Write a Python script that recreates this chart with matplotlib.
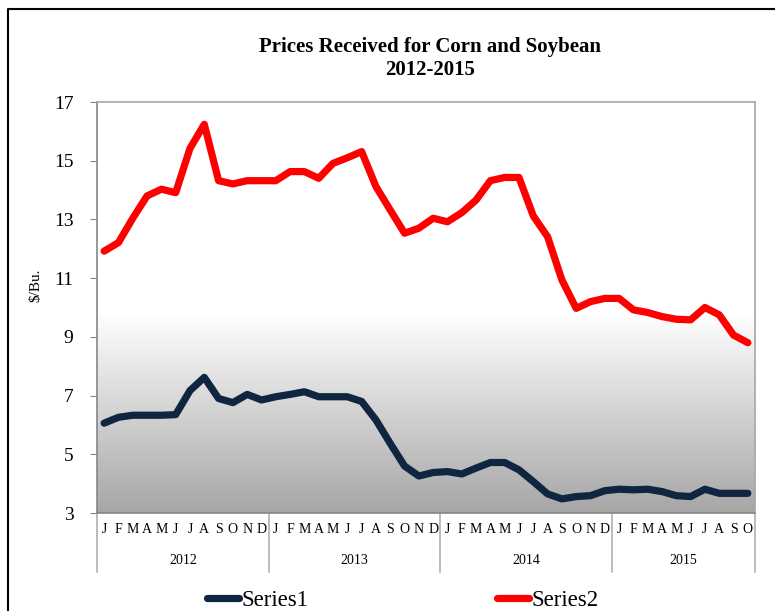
import matplotlib
matplotlib.use("Agg")
import matplotlib.pyplot as plt
import numpy as np
from matplotlib.lines import Line2D
import matplotlib.transforms as mtransforms
from matplotlib.colors import LinearSegmentedColormap

months = ["J", "F", "M", "A", "M", "J", "J", "A", "S", "O", "N", "D"]
years = ["2012", "2013", "2014", "2015"]
months_per_year = [12, 12, 12, 10]
month_labels = months * 3 + months[:10]

series1 = [6.06, 6.26, 6.33, 6.33, 6.33, 6.35, 7.17, 7.62, 6.90, 6.76, 7.04, 6.85,
           6.96, 7.04, 7.13, 6.96, 6.96, 6.96, 6.80, 6.17, 5.37, 4.60, 4.26, 4.38,
           4.41, 4.33, 4.53, 4.72, 4.72, 4.47, 4.07, 3.65, 3.48, 3.56, 3.59, 3.76,
           3.81, 3.79, 3.81, 3.73, 3.59, 3.56, 3.81, 3.67, 3.67, 3.67]
series2 = [11.92, 12.21, 13.04, 13.80, 14.03, 13.91, 15.42, 16.24, 14.32, 14.21, 14.32, 14.32,
           14.32, 14.63, 14.63, 14.40, 14.91, 15.10, 15.31, 14.12, 13.32, 12.53, 12.70, 13.04,
           12.92, 13.23, 13.66, 14.32, 14.43, 14.43, 13.12, 12.41, 10.94, 9.97, 10.20, 10.31,
           10.31, 9.92, 9.83, 9.69, 9.60, 9.58, 10.00, 9.75, 9.06, 8.80]
series_names = ["Series1", "Series2"]

W, H = 775, 611
fig = plt.figure(figsize=(W / 100, H / 100), dpi=100)
serif = ["Liberation Serif", "DejaVu Serif"]
plt.rcParams['font.family'] = serif

ax = fig.add_axes([97 / W, 1 - 513 / H, (755 - 97) / W, (513 - 102) / H])
n = len(series1)
x = np.arange(n)
ax.set_xlim(-0.5, n - 0.5)
ax.set_ylim(3, 17)

# gradient background
grad = np.linspace(0, 1, 256).reshape(-1, 1)
cmap = LinearSegmentedColormap.from_list("g", ["#a6a6a6", "#ffffff"])
ax.imshow(grad, cmap=cmap, aspect="auto", origin="lower",
          extent=(-0.5, n - 0.5, 3, 9.8), zorder=0)

ax.plot(x, series1, color="#10253f", lw=5.2, solid_capstyle="round",
        solid_joinstyle="round", label=series_names[0], zorder=3)
ax.plot(x, series2, color="#ff0000", lw=5.2, solid_capstyle="round",
        solid_joinstyle="round", label=series_names[1], zorder=3)

ax.set_yticks(np.arange(3, 18, 2))
ax.tick_params(axis="y", labelsize=14, length=5, color="#868686", pad=12, direction="out")
ax.set_xticks(x)
ax.set_xticklabels(month_labels, fontsize=10)
ax.tick_params(axis="x", length=0, pad=7)
for s in ["left", "bottom"]:
    ax.spines[s].set_color("#868686")
    ax.spines[s].set_linewidth(1.2)
for s in ["top", "right"]:
    ax.spines[s].set_color("#a6a6a6")
    ax.spines[s].set_linewidth(1.2)

ax.set_ylabel("$/Bu.", fontsize=11, va="center")
ax.yaxis.set_label_coords((36 - 97) / 658, (513 - 285) / 411)

# year group labels and separators
trans = mtransforms.blended_transform_factory(ax.transData, ax.transAxes)
sep_bottom = -(572 - 513) / (513 - 102)
start = 0
bounds = [-0.5]
for yr, cnt in zip(years, months_per_year):
    mid = start + (cnt - 1) / 2
    ax.text(mid, -(560 - 513) / (513 - 102), yr, transform=trans, ha="center",
            va="center", fontsize=10)
    start += cnt
    bounds.append(start - 0.5)
for b in bounds:
    ax.add_line(Line2D([b, b], [0, sep_bottom], transform=trans, color="#b0b0b0",
                       lw=1.2, clip_on=False))

fig.suptitle("Prices Received for Corn and Soybean\n2012-2015", x=430 / W, y=1 - 37 / H,
             fontsize=15, fontweight="bold", va="top", linespacing=1.2)

leg = fig.legend(loc="center", bbox_to_anchor=(403 / W, 1 - 600 / H), ncol=2,
                 frameon=False, fontsize=16.5, handlelength=1.4, handletextpad=0.13,
                 columnspacing=8.2)

# outer border (left and top)
fig.add_artist(Line2D([8 / W, 8 / W, 1.0], [0, 1 - 9 / H, 1 - 9 / H],
                      transform=fig.transFigure, color="black", lw=1.5))

fig.savefig("out.png", dpi=100)
